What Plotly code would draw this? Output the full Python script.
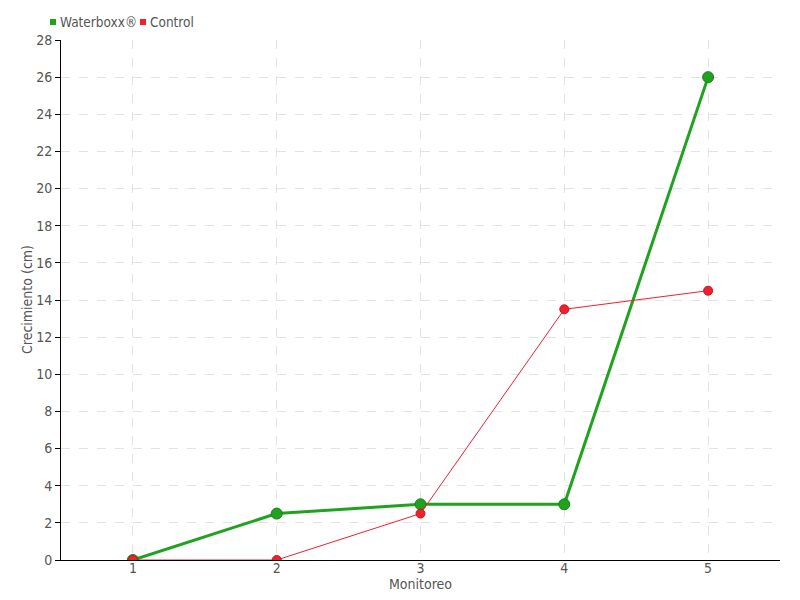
import plotly.graph_objects as go

monitoreo = [1, 2, 3, 4, 5]
waterboxx = [0, 2.5, 3, 3, 26]
control = [0, 0, 2.5, 13.5, 14.5]
y_ticks = list(range(0, 29, 2))
legend_names = ["Waterboxx®", "Control"]
x_title = "Monitoreo"
y_title = "Crecimiento (cm)"

FONT = "Liberation Sans Narrow, DejaVu Sans Condensed, sans-serif"
GREEN = "#1fa31f"
RED = "#f0202e"
TXT = "#555555"

L, R, T, B = 53, 28, 32, 48
PW, PH = 800 - L - R, 600 - T - B


def px(xfig):
    return (xfig - L) / PW


def py(yfig):
    return 1 + (T - yfig) / PH


fig = go.Figure()
fig.add_trace(go.Scatter(x=monitoreo, y=waterboxx, mode="lines+markers", name=legend_names[0],
                         line=dict(color=GREEN, width=3),
                         marker=dict(color=GREEN, size=11, line=dict(color="#187f18", width=1)),
                         showlegend=False))
fig.add_trace(go.Scatter(x=monitoreo, y=control, mode="lines+markers", name=legend_names[1],
                         line=dict(color=RED, width=1),
                         marker=dict(color=RED, size=9, line=dict(color="#d0101e", width=1)),
                         showlegend=False))

shapes = []
annotations = []
for name, color, sx, tx in [(legend_names[0], GREEN, 42, 51), (legend_names[1], RED, 132, 141)]:
    shapes.append(dict(type="rect", xref="paper", yref="paper",
                       x0=px(sx), x1=px(sx + 6), y0=py(17), y1=py(11),
                       fillcolor=color, line=dict(width=0)))
    annotations.append(dict(text=name, xref="paper", yref="paper", x=px(tx), y=py(14),
                            xanchor="left", yanchor="middle", showarrow=False,
                            borderpad=0, font=dict(family=FONT, size=13.5, color=TXT)))
annotations.append(dict(text=x_title, xref="paper", yref="paper", x=px(412), y=py(576),
                        xanchor="center", yanchor="middle", showarrow=False, borderpad=0,
                        font=dict(family=FONT, size=14, color=TXT)))
annotations.append(dict(text=y_title, xref="paper", yref="paper", x=px(19), y=py(292),
                        xanchor="center", yanchor="middle", showarrow=False, borderpad=0,
                        textangle=-90, font=dict(family=FONT, size=14, color=TXT)))

fig.update_layout(
    width=800, height=600,
    margin=dict(l=L, r=R, t=T, b=B),
    plot_bgcolor="white", paper_bgcolor="white",
    font=dict(family=FONT, size=14, color=TXT),
    showlegend=False,
    shapes=shapes, annotations=annotations,
)
fig.update_xaxes(range=[0.5, 5.5], tickvals=monitoreo, ticktext=[str(v) for v in monitoreo],
                 showgrid=True, gridcolor="#e3e3e3", griddash="dash", gridwidth=1,
                 showline=True, linecolor="black", linewidth=1, zeroline=False,
                 ticks="", ticklabelstandoff=-5, tickfont=dict(size=14), automargin=False)
fig.update_yaxes(range=[0, 28], tickvals=y_ticks,
                 showgrid=True, gridcolor="#e3e3e3", griddash="dash", gridwidth=1,
                 showline=True, linecolor="black", linewidth=1, zeroline=False,
                 ticks="outside", ticklen=5, tickcolor="black",
                 tickfont=dict(size=14), automargin=False)

fig.write_html("out.html")
